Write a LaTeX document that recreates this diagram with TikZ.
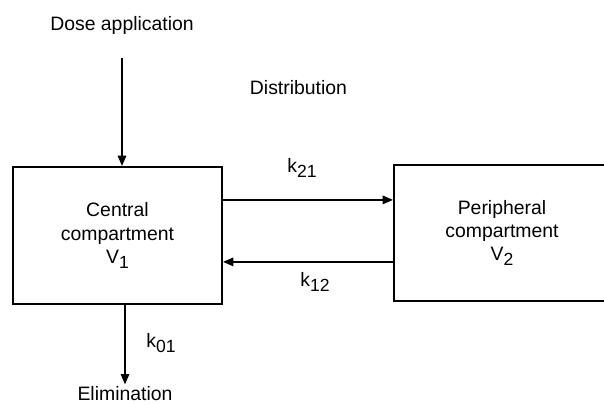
\documentclass[tikz,border=0pt]{standalone}
\usepackage{fontspec}
\setmainfont{Liberation Sans}
\usetikzlibrary{arrows.meta,positioning}
\newcommand{\lowidx}[1]{\raisebox{-3.5pt}{\fontsize{12.5}{12.5}\selectfont #1}}

\begin{document}
\begin{tikzpicture}[font=\fontsize{13.8}{16.5}\selectfont,>={Triangle[length=2.6mm,width=2.1mm]},
  comp/.style={draw,line width=1.35pt,align=center,inner sep=0pt},
  flow/.style={->,line width=1.35pt}]
  \useasboundingbox (0,0) rectangle (15.1,10.1);
  \node[comp,minimum width=5.225cm,minimum height=3.425cm] (central) at (2.9375,4.2125)
    {Central\\compartment\\V\lowidx{1}};
  \node[comp,minimum width=5.4cm,minimum height=3.4cm] (periph) at (12.55,4.275)
    {Peripheral\\compartment\\V\lowidx{2}};
  \node (dose) at (3.05,9.475) {Dose application};
  \coordinate (dosetop) at (3.05,8.65);
  \draw[flow] (dosetop) -- (dosetop |- central.north);
  \node (distr) at (7.4625,7.9) {Distribution};
  \node (k21) at (7.55,5.9) {k\lowidx{21}};
  \draw[flow] ([yshift=0.89cm]central.east) -- ([yshift=0.89cm]central.east -| periph.west);
  \node (k12) at (7.875,3.05) {k\lowidx{12}};
  \draw[flow] ([yshift=-0.66cm]central.east -| periph.west) -- ([yshift=-0.66cm]central.east);
  \node[anchor=north,inner sep=0pt] (elim) at (3.125,0.44) {Elimination};
  \draw[flow] (elim.north |- central.south) -- ([yshift=0.05cm]elim.north);
  \node (k01) at (4.025,1.525) {k\lowidx{01}};
\end{tikzpicture}
\end{document}
